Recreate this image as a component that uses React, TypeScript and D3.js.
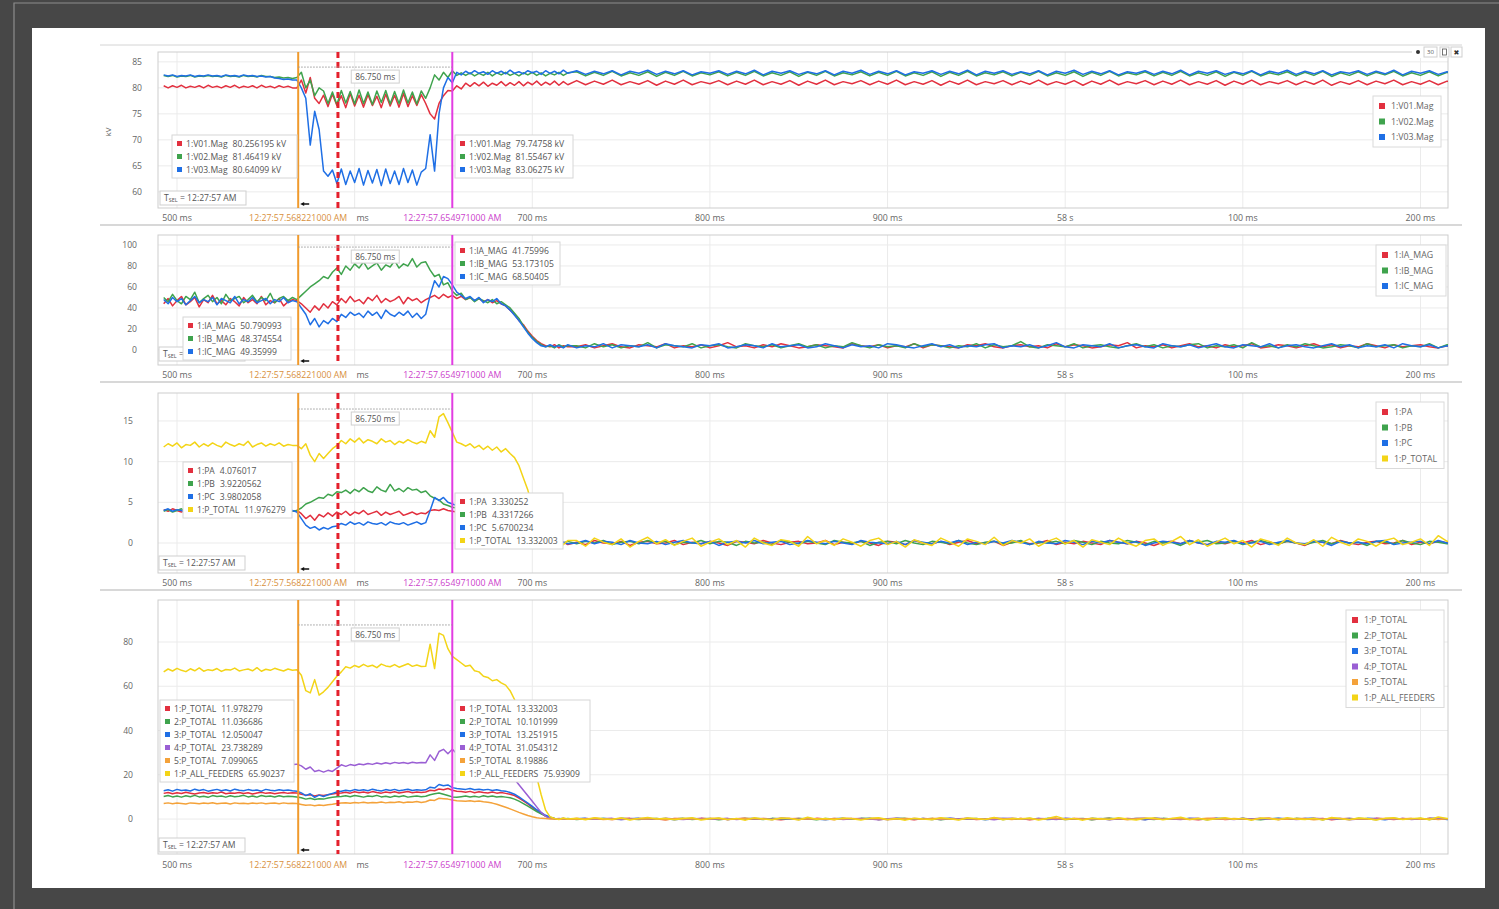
import * as d3 from "d3"

// ---- time axis (ms after 12:27:57) ----
const xTicks = [500, 600, 700, 800, 900, 1000, 1100, 1200]
const xTickLabels = ["500 ms", "600 ms", "700 ms", "800 ms", "900 ms", "58 s", "100 ms", "200 ms"]
const cursorTimes = [568.221, 590.6, 654.971]
const cursorLabels = ["12:27:57.568221000 AM", "", "12:27:57.654971000 AM"]
const spanLabel = "86.750 ms"
const tselTime = "12:27:57 AM"

// samples: head every 2.5 ms from 492.5, tail every 5 ms from 725
const HEAD_T0 = 492.5
const HEAD_DT = 2.5
const TAIL_T0 = 725
const TAIL_DT = 5

// ---- panel 1: voltage magnitudes (kV) ----
const v01Head = [
  80.4, 80.0, 80.4, 80.1, 80.5, 80.0, 80.3, 80.1, 80.4, 80.0, 80.5, 80.1, 80.3, 80.0, 80.4, 80.1, 80.5, 80.0, 80.3, 80.1,
  80.4, 80.0, 80.5, 80.1, 80.3, 80.0, 80.4, 80.1, 80.3, 80.0,
  80.0, 81.5, 79.0, 82.0, 78.0, 77.0,
  78.6, 76.4, 78.8, 76.6, 78.5, 76.2, 78.9, 76.5, 78.6, 76.3, 78.7, 76.6, 78.4, 76.2, 78.8, 76.5, 78.6, 76.3, 78.9, 76.4,
  78.5, 76.6, 78.7,
  77.0, 75.0, 74.0, 77.0, 78.5, 79.5, 79.4, 80.4, 79.8,
  80.9, 80.3, 81.0, 80.4, 81.1, 80.3, 80.9, 80.5, 81.2, 80.4, 81.0, 80.5, 81.2, 80.4, 81.1, 80.6, 81.3, 80.5, 81.1, 80.6,
  81.3, 80.5, 81.2, 80.6,
]
const v01Tail = [
  81.4, 80.6, 81.3, 80.7, 81.5, 80.6, 81.2, 80.7, 81.4, 80.5,
  81.3, 80.7, 81.5, 80.6, 81.2, 80.8, 81.4, 80.6, 81.3, 80.7,
  81.5, 80.6, 81.2, 80.7, 81.4, 80.5, 81.3, 80.7, 81.5, 80.6,
  81.2, 80.8, 81.4, 80.6, 81.3, 80.7, 81.5, 80.6, 81.2, 80.7,
  81.4, 80.5, 81.3, 80.7, 81.5, 80.6, 81.2, 80.8, 81.4, 80.6,
  81.3, 80.7, 81.5, 80.6, 81.2, 80.7, 81.4, 80.5, 81.3, 80.7,
  81.5, 80.6, 81.2, 80.8, 81.4, 80.6, 81.3, 80.7, 81.5, 80.6,
  81.2, 80.7, 81.4, 80.5, 81.3, 80.7, 81.5, 80.6, 81.2, 80.8,
  81.4, 80.6, 81.3, 80.7, 81.5, 80.5, 81.2, 80.7, 81.4, 80.6,
  81.3, 80.8, 81.5, 80.6, 81.2, 80.7, 81.4, 80.6, 81.3, 80.7,
]
const v02Head = [
  82.4, 82.2, 82.4, 82.1, 82.3, 82.2, 82.4, 82.1, 82.3, 82.2, 82.4, 82.2, 82.3, 82.1, 82.4, 82.2, 82.3, 82.1, 82.4, 82.2,
  82.3, 82.1, 82.4, 82.2, 82.2, 82.0, 82.1, 81.9, 82.0, 81.8,
  82.0, 83.0, 80.0, 81.5, 78.5, 80.0,
  79.4, 77.0, 79.2, 76.8, 79.5, 77.1, 79.3, 76.9, 79.6, 77.0, 79.2, 76.8, 79.4, 77.2, 79.5, 76.9, 79.3, 77.0, 79.6, 77.1,
  79.2, 76.9, 79.4,
  78.0, 80.0, 82.5, 81.5, 83.0, 82.0, 83.3, 82.4, 82.9,
  82.4, 82.9, 82.3, 82.8, 82.4, 83.0, 82.3, 82.9, 82.5, 83.0, 82.4, 82.8, 82.3, 82.9, 82.5, 83.0, 82.4, 82.9, 82.3, 82.8,
  82.5, 83.0, 82.4, 82.9,
]
const v02Tail = [
  83.1, 82.3, 83.0, 82.4, 83.2, 82.3, 82.9, 82.4, 83.1, 82.2,
  83.0, 82.4, 83.2, 82.3, 82.9, 82.5, 83.1, 82.3, 83.0, 82.4,
  83.2, 82.3, 82.9, 82.4, 83.1, 82.2, 83.0, 82.4, 83.2, 82.3,
  82.9, 82.5, 83.1, 82.3, 83.0, 82.4, 83.2, 82.3, 82.9, 82.4,
  83.1, 82.2, 83.0, 82.4, 83.2, 82.3, 82.9, 82.5, 83.1, 82.3,
  83.0, 82.4, 83.2, 82.3, 82.9, 82.4, 83.1, 82.2, 83.0, 82.4,
  83.2, 82.3, 82.9, 82.5, 83.1, 82.3, 83.0, 82.4, 83.2, 82.3,
  82.9, 82.4, 83.1, 82.2, 83.0, 82.4, 83.2, 82.3, 82.9, 82.5,
  83.1, 82.3, 83.0, 82.4, 83.2, 82.2, 82.9, 82.4, 83.1, 82.3,
  83.0, 82.5, 83.2, 82.3, 82.9, 82.4, 83.1, 82.3, 83.0, 82.4,
]
const v03Head = [
  82.5, 82.3, 82.5, 82.2, 82.4, 82.3, 82.5, 82.2, 82.4, 82.3, 82.5, 82.3, 82.4, 82.2, 82.5, 82.3, 82.4, 82.2, 82.5, 82.3,
  82.4, 82.2, 82.3, 82.1, 82.2, 81.9, 81.8, 81.6, 81.7, 81.5,
  81.5, 80.0, 78.0, 69.0, 75.5, 72.0, 64.0, 63.0,
  64.2, 61.6, 64.4, 61.4, 64.0, 61.8, 64.5, 61.3, 64.1, 61.7, 64.3, 61.2, 64.4, 61.6, 64.0, 61.4, 64.5, 61.8, 64.2, 61.3,
  63.8,
  64.5, 71.0, 64.0, 75.0, 80.0, 82.0, 81.0, 83.0, 82.5,
  83.2, 82.7, 83.3, 82.8, 83.1, 82.6, 83.3, 82.8, 83.2, 82.7, 83.4, 82.8, 83.1, 82.7, 83.3, 82.9, 83.2, 82.6, 83.3, 82.8,
  83.2, 82.7, 83.4, 82.8,
]
const v03Tail = [
  83.3, 82.6, 83.2, 82.7, 83.3, 82.5, 83.2, 82.8, 83.4, 82.6,
  83.2, 82.7, 83.3, 82.5, 83.1, 82.8, 83.3, 82.6, 83.2, 82.7,
  83.4, 82.5, 83.2, 82.8, 83.3, 82.6, 83.1, 82.7, 83.3, 82.5,
  83.2, 82.8, 83.4, 82.6, 83.2, 82.7, 83.3, 82.5, 83.1, 82.8,
  83.3, 82.6, 83.2, 82.7, 83.4, 82.5, 83.2, 82.8, 83.3, 82.6,
  83.1, 82.7, 83.3, 82.5, 83.2, 82.8, 83.4, 82.6, 83.2, 82.7,
  83.3, 82.5, 83.1, 82.8, 83.3, 82.6, 83.2, 82.7, 83.4, 82.5,
  83.2, 82.8, 83.3, 82.6, 83.1, 82.7, 83.3, 82.5, 83.2, 82.8,
  83.4, 82.6, 83.2, 82.7, 83.3, 82.5, 83.1, 82.8, 83.3, 82.6,
  83.2, 82.7, 83.4, 82.5, 83.2, 82.8, 83.3, 82.6, 83.1, 82.7,
]

// ---- panel 2: current magnitudes ----
const iaHead = [
  44, 49, 42, 47, 51, 43, 46, 50, 41, 48, 45, 52, 44, 47, 43, 49, 46, 42, 50, 45, 48, 44, 51, 43, 47, 45, 49, 42, 46, 48,
  47, 44, 40, 36, 42, 38, 44, 40, 46, 43,
  49, 45, 51, 46, 48, 44, 50, 47, 52, 45, 49, 46, 48, 51, 44, 50, 47, 49, 45,
  48, 50, 52, 49, 53, 50, 52, 49, 51,
  48, 50, 47, 49, 46, 48, 45, 47, 44,
  42, 38, 34, 28, 24, 18, 13, 9, 6, 4, 3, 5, 2, 4, 3,
]
const iaTail = [
  3, 5, 2, 4, 6, 3, 2, 5, 4, 3, 6, 2, 4, 3, 5, 2, 4, 7, 3, 4, 2, 5, 3, 6, 4, 2, 3, 5, 4, 3, 2, 6, 4, 3, 5, 2, 4, 3, 6, 2,
  5, 4, 3, 2, 5, 4, 6, 3, 2, 4, 5, 3, 4, 2, 6, 3, 5, 4, 2, 3, 5, 4, 7, 2, 4, 3, 5, 2, 4, 6, 3, 4, 2, 5, 3, 4, 6, 2, 3, 5,
  4, 2, 4, 6, 3, 5, 2, 4, 3, 6, 4, 2, 5, 3, 4, 5, 3, 2, 4, 3,
]
const ibHead = [
  50, 46, 53, 47, 44, 51, 48, 55, 45, 49, 52, 46, 50, 44, 53, 47, 49, 51, 45, 48, 52, 46, 50, 47, 54, 45, 49, 51, 47, 50,
  48, 52, 56, 60, 63, 66, 70, 68, 74, 78,
  72, 80, 76, 82, 78, 84, 77, 80, 83, 76, 81, 79, 85, 78, 82, 80, 87, 79, 83,
  84, 76, 70, 72, 62, 64, 56, 52, 54,
  48, 50, 46, 49, 47, 45, 48, 44, 46,
  43, 40, 35, 30, 23, 17, 12, 8, 5, 3, 4, 2, 5, 3, 4,
]
const ibTail = [
  4, 2, 6, 3, 5, 2, 4, 3, 7, 2, 5, 4, 3, 6, 2, 4, 5, 3, 2, 6, 4, 3, 5, 2, 4, 6, 3, 5, 2, 4, 3, 7, 4, 2, 5, 3, 4, 2, 6, 3,
  5, 4, 2, 4, 3, 6, 2, 5, 3, 4, 8, 3, 2, 5, 4, 3, 6, 2, 4, 5, 3, 2, 4, 6, 3, 5, 2, 4, 3, 5, 6, 2, 4, 3, 5, 2, 7, 3, 4, 2,
  5, 3, 6, 4, 2, 3, 5, 4, 2, 6, 3, 4, 5, 2, 4, 3, 6, 2, 5, 4,
]
const icHead = [
  48, 44, 50, 46, 49, 43, 47, 51, 45, 48, 46, 50, 43, 49, 47, 45, 51, 44, 48, 46, 50, 45, 47, 49, 44, 48, 46, 50, 45, 47,
  46, 40, 34, 24, 30, 22, 28, 25, 30, 27,
  34, 31, 36, 33, 35, 31, 37, 33, 36, 30, 38, 34, 32, 36, 33, 37, 31, 35, 30,
  34, 52, 66, 60, 70, 68, 62, 55, 52,
  49, 51, 47, 50, 45, 48, 46, 49, 44,
  42, 38, 33, 28, 22, 16, 11, 7, 4, 3, 5, 3, 4, 2, 5,
]
const icTail = [
  2, 4, 3, 6, 2, 5, 4, 3, 5, 2, 6, 4, 3, 2, 5, 4, 6, 2, 3, 5, 4, 2, 6, 3, 4, 5, 2, 3, 6, 4, 2, 5, 3, 4, 2, 6, 5, 3, 2, 4,
  6, 3, 5, 2, 4, 3, 5, 6, 2, 4, 3, 5, 2, 4, 7, 3, 2, 5, 4, 3, 6, 2, 4, 5, 3, 2, 6, 4, 3, 5, 2, 4, 6, 3, 2, 5, 4, 3, 6, 2,
  4, 5, 3, 2, 4, 6, 3, 5, 2, 4, 3, 5, 2, 6, 4, 3, 5, 2, 4, 3,
]

// ---- panel 3: feeder 1 active power ----
const paHead = [
  4.1, 3.9, 4.2, 4.0, 3.8, 4.1, 4.0, 4.2, 3.9, 4.1, 4.0, 3.8, 4.2, 4.0, 4.1, 3.9, 4.2, 4.0, 3.8, 4.1, 4.0, 4.2, 3.9, 4.1,
  4.0, 3.9, 4.2, 4.0, 4.1, 3.9,
  4.0, 3.6, 3.0, 3.4, 2.8, 3.5, 3.2, 3.7, 3.3, 3.8,
  3.5, 3.9, 3.4, 3.8, 3.6, 4.0, 3.5, 3.7, 3.9, 3.4, 3.8, 3.5, 3.7, 3.9, 3.4, 3.6, 3.8, 3.5, 3.7,
  3.6, 4.0, 4.1, 4.0, 4.2, 4.0, 3.9, 3.8, 3.9,
  3.7, 3.8, 3.6, 3.7, 3.5, 3.6, 3.4, 3.5,
  3.3, 3.1, 2.8, 2.4, 2.0, 1.5, 1.1, 0.7, 0.4, 0.2, 0.1, -0.1, 0.2, 0, 0.1, -0.2,
]
const paTail = [
  0.1, -0.2, 0.3, 0, -0.1, 0.2, -0.3, 0.1, 0.2, -0.1, 0, 0.3, -0.2, 0.1, -0.1, 0.2, 0, -0.3, 0.2, 0.1,
  -0.1, 0.3, 0, -0.2, 0.1, 0.2, -0.1, 0, 0.3, -0.2, 0.1, -0.1, 0.2, 0, -0.3, 0.2, 0.1, -0.2, 0.3, 0,
  -0.1, 0.2, -0.2, 0.1, 0.3, -0.1, 0, 0.2, -0.3, 0.1, 0.2, -0.1, 0, 0.3, -0.2, 0.1, -0.1, 0.2, 0, -0.2,
  0.3, 0.1, -0.1, 0.2, 0, -0.3, 0.1, 0.2, -0.1, 0.3, 0, -0.2, 0.1, -0.1, 0.2, 0, 0.3, -0.2, 0.1, -0.1,
  0.2, 0, -0.3, 0.2, 0.1, -0.1, 0.3, 0, -0.2, 0.1, 0.2, -0.1, 0, 0.3, -0.2, 0.1, -0.1, 0.2, 0, 0.1,
]
const pbHead = [
  3.9, 4.1, 3.8, 4.0, 4.2, 3.9, 4.1, 3.8, 4.0, 3.9, 4.1, 4.0, 3.8, 4.2, 3.9, 4.0, 4.1, 3.8, 4.0, 3.9, 4.2, 3.9, 4.0, 4.1,
  3.8, 4.0, 3.9, 4.1, 4.0, 3.9,
  4.0, 4.3, 4.8, 5.0, 5.3, 5.6, 5.5, 6.0, 5.8, 6.3,
  6.2, 6.5, 6.1, 6.6, 6.3, 6.8, 6.4, 6.2, 6.9, 6.5, 6.3, 7.2, 6.4, 6.7, 6.3, 6.8, 6.5, 6.6, 6.2,
  6.4, 5.8, 5.5, 5.3, 4.8, 4.6, 4.4, 4.3, 4.2,
  4.3, 4.1, 4.2, 4.0, 4.1, 3.9, 3.8, 3.7,
  3.5, 3.2, 2.9, 2.5, 2.1, 1.6, 1.2, 0.8, 0.5, 0.3, 0.1, 0.2, -0.1, 0.1, 0, 0.2,
]
const pbTail = [
  -0.1, 0.2, 0, 0.3, -0.2, 0.1, 0.2, -0.1, 0.3, 0, 0.2, -0.2, 0.1, 0, 0.3, -0.1, 0.2, 0.1, -0.3, 0.2,
  0, 0.1, -0.2, 0.3, 0.1, -0.1, 0.2, 0, -0.2, 0.3, 0.1, 0, 0.2, -0.3, 0.1, 0.2, -0.1, 0.3, 0, -0.2,
  0.2, 0.1, -0.1, 0.3, 0, -0.2, 0.1, 0.2, -0.1, 0, 0.3, -0.2, 0.1, 0, 0.2, -0.1, 0.3, 0.1, -0.2, 0.2,
  0, -0.1, 0.3, 0.1, -0.2, 0.2, 0, 0.1, -0.3, 0.2, 0.1, 0.3, -0.1, 0, 0.2, -0.2, 0.1, 0.3, 0, -0.1,
  0.2, 0, -0.2, 0.1, 0.3, -0.1, 0.2, 0, 0.1, -0.3, 0.2, 0.1, -0.1, 0.3, 0, -0.2, 0.2, 0.1, -0.1, 0,
]
const pcHead = [
  4.0, 4.2, 3.9, 4.1, 4.0, 3.8, 4.2, 4.0, 3.9, 4.1, 4.0, 4.2, 3.9, 4.0, 4.1, 3.8, 4.0, 4.2, 3.9, 4.1, 3.9, 4.0, 4.2, 3.8,
  4.1, 4.0, 3.9, 4.1, 4.0, 4.0,
  3.8, 3.0, 2.2, 1.8, 2.0, 1.6, 1.9, 1.7, 2.0, 2.1,
  2.4, 2.2, 2.6, 2.3, 2.5, 2.2, 2.6, 2.4, 2.3, 2.5, 2.2, 2.6, 2.4, 2.3, 2.5, 2.2, 2.4, 2.6, 2.3,
  2.5, 4.0, 5.6, 5.2, 5.6, 5.0, 4.8, 4.6, 4.5,
  4.3, 4.4, 4.2, 4.3, 4.1, 4.0, 3.9, 3.8,
  3.6, 3.3, 3.0, 2.6, 2.2, 1.7, 1.3, 0.9, 0.5, 0.3, 0.1, -0.1, 0.2, 0, 0.1, -0.1,
]
const pcTail = [
  0, 0.3, -0.1, 0.2, 0.1, -0.2, 0.3, 0, -0.1, 0.2, -0.2, 0.1, 0.3, 0, -0.1, 0.2, -0.3, 0.1, 0.2, 0,
  0.3, -0.1, 0.1, 0.2, -0.2, 0, 0.3, 0.1, -0.1, 0.2, 0, -0.2, 0.3, 0.1, 0, -0.1, 0.2, -0.2, 0.3, 0.1,
  -0.1, 0.2, 0, 0.3, -0.2, 0.1, -0.1, 0.2, 0, 0.3, 0.1, -0.2, 0.2, 0, -0.1, 0.3, 0.1, -0.2, 0.2, 0,
  0.3, 0.1, -0.1, 0.2, -0.3, 0, 0.2, 0.1, -0.1, 0.3, 0, -0.2, 0.2, 0.1, 0.3, -0.1, 0, 0.2, -0.2, 0.1,
  0.3, 0, -0.1, 0.2, 0.1, -0.3, 0.2, 0, 0.1, -0.1, 0.2, 0.3, -0.2, 0, 0.1, 0.2, -0.1, 0.3, 0, 0.1,
]
const ptHead = [
  11.8, 12.2, 11.9, 12.3, 11.7, 12.1, 12.0, 12.4, 11.8, 12.2, 11.9, 12.3, 12.0, 11.8, 12.4, 12.1, 11.9, 12.2, 12.0, 12.5,
  11.8, 12.1, 12.3, 11.9, 12.2, 12.0, 12.3, 11.9, 12.1, 12.0,
  12.0, 11.6, 12.2, 10.8, 10.0, 11.0, 10.4, 11.0, 11.6, 12.0,
  12.6, 12.2, 12.8, 12.4, 12.9, 12.3, 12.7, 12.5, 12.2, 12.8, 12.4, 12.6, 12.1, 12.5, 12.3, 12.7, 12.4, 12.2, 12.5,
  12.3, 13.8, 13.0, 15.5, 15.9, 14.8, 13.6, 12.4, 12.2,
  11.9, 12.2, 11.7, 12.0, 11.5, 11.9, 11.4, 11.8, 11.2, 11.6,
  11.0, 10.5, 9.5, 8.0, 6.5, 4.5, 3.0, 1.5, 0.6, 0.3, 0, 0.4, -0.2, 0.3,
]
const ptTail = [
  0.3, -0.4, 0.6, 0.1, -0.2, 0.5, -0.5, 0.2, 0.7, -0.1, 0.4, -0.3, 0.2, 0.6, -0.4, 0.1, 0.5, -0.2, 0.3, -0.5,
  0.6, 0, -0.3, 0.4, 0.2, -0.4, 0.8, -0.1, 0.3, -0.3, 0.5, 0.1, -0.4, 0.3, 0.6, -0.2, 0.2, -0.5, 0.4, 0,
  -0.3, 0.6, 0.1, -0.4, 0.5, 0.2, -0.2, 0.7, -0.3, 0.3, 0, 0.5, -0.4, 0.2, 0.6, -0.1, 0.3, -0.5, 0.4, 0.1,
  -0.2, 0.6, 0, -0.4, 0.3, 0.5, -0.3, 0.2, 0.8, -0.2, 0.4, -0.4, 0.1, 0.6, -0.1, 0.3, -0.5, 0.5, 0.2, -0.3,
  0.6, 0, -0.2, 0.4, -0.4, 0.7, 0.1, -0.3, 0.5, 0.2, -0.4, 0.3, 0.6, -0.2, 0.1, 0.5, -0.3, 0.9, 0.2, 0.4,
]

// ---- panel 4: feeder totals ----
const f1Head = [
  11.6, 12.0, 11.4, 11.9, 11.5, 12.1, 11.7, 11.3, 11.8, 12.0, 11.5, 11.9, 11.6, 12.2, 11.4, 11.8, 11.7, 12.0, 11.5, 11.9,
  11.3, 11.8, 12.1, 11.6, 11.9, 11.4, 11.8, 12.0, 11.6, 11.9,
  11.8, 11.2, 10.8, 11.0, 10.4, 10.9, 10.6, 11.0, 11.3, 11.6,
  11.8, 12.1, 11.7, 12.3, 11.9, 12.2, 11.8, 12.4, 12.0, 11.7, 12.2, 11.9, 12.3, 11.8, 12.1, 12.4, 11.9, 12.2, 12.0,
  12.2, 13.0, 12.8, 13.6, 13.2, 13.8, 13.0, 12.6, 12.4,
  12.1, 12.5, 11.9, 12.3, 12.0, 11.8, 12.2, 11.7, 12.0, 11.6,
  11.2, 10.6, 9.5, 8.2, 6.8, 5.3, 3.9, 2.6, 1.4, 0.6, 0.2, 0, 0.3, -0.1,
]
const f2Head = [
  10.2, 10.6, 10.0, 10.4, 9.9, 10.5, 10.1, 10.7, 10.0, 10.3, 9.8, 10.6, 10.2, 10.4, 9.9, 10.5, 10.1, 10.3, 10.7, 10.0,
  10.4, 9.9, 10.6, 10.2, 10.4, 10.0, 10.5, 10.1, 10.3, 10.2,
  10.0, 9.6, 9.0, 9.4, 8.8, 9.2, 9.0, 9.5, 9.8, 10.1,
  10.2, 10.5, 10.1, 10.6, 10.3, 9.9, 10.4, 10.2, 10.7, 10.0, 10.3, 9.8, 10.4, 10.1, 10.5, 9.9, 10.2, 10.4, 10.1,
  10.3, 11.0, 11.4, 11.8, 11.2, 10.6, 10.0, 9.8, 10.1,
  10.4, 10.0, 10.3, 9.9, 10.5, 10.1, 10.4, 10.0, 10.2, 9.9,
  9.6, 9.0, 8.1, 7.0, 5.8, 4.6, 3.4, 2.3, 1.3, 0.6, 0.2, 0.1, -0.1, 0.2,
]
const f3Head = [
  12.8, 13.2, 12.6, 13.4, 12.9, 13.1, 12.7, 13.5, 12.9, 13.3, 12.6, 13.0, 13.4, 12.8, 13.2, 12.7, 13.5, 13.0, 12.8, 13.3,
  12.9, 13.1, 12.6, 13.4, 13.0, 12.8, 13.2, 12.9, 13.1, 12.8,
  12.6, 11.8, 10.6, 11.4, 9.8, 10.8, 10.2, 11.0, 11.6, 12.2,
  12.6, 13.0, 12.7, 13.3, 12.9, 13.2, 12.8, 13.5, 13.0, 12.7, 13.3, 12.9, 13.4, 12.8, 13.1, 13.5, 12.9, 13.2, 13.0,
  13.2, 14.4, 14.0, 15.6, 15.0, 15.4, 14.2, 13.8, 13.6,
  13.4, 13.8, 13.2, 13.5, 13.1, 13.4, 12.9, 13.2, 12.8, 12.6,
  12.0, 11.2, 10.0, 8.6, 7.2, 5.7, 4.2, 2.9, 1.7, 0.8, 0.3, 0.1, 0.2, -0.1,
]
const f4Head = [
  24.2, 24.8, 24.4, 25.0, 24.3, 24.7, 24.5, 24.9, 24.2, 24.6, 24.8, 24.3, 24.7, 24.5, 25.0, 24.4, 24.6, 24.9, 24.3, 24.7,
  24.5, 24.8, 24.2, 24.6, 24.9, 24.4, 24.7, 24.5, 24.8, 24.6,
  24.8, 24.0, 22.5, 23.5, 21.5, 22.0, 21.2, 22.0, 21.5, 23.0, 24.5,
  23.8, 24.6, 24.2, 24.9, 24.5, 25.1, 24.7, 25.3, 24.9, 25.4, 25.0, 25.6, 25.2, 25.5, 25.1, 25.7, 25.3, 25.6,
  25.4, 29.0, 26.5, 30.5, 31.5, 29.5, 31.5, 29.5, 29.0,
  28.5, 28.0, 27.5, 26.5, 26.0, 25.0, 24.5, 23.5, 22.5, 21.5,
  20.0, 18.0, 15.5, 13.0, 10.5, 8.0, 5.5, 3.0, 1.2, 0.4, 0.0, 0.2, -0.1, 0.1,
]
const f5Head = [
  7.0, 7.3, 6.9, 7.2, 7.0, 6.8, 7.3, 7.1, 6.9, 7.2, 7.0, 7.4, 6.9, 7.1, 7.2, 6.8, 7.3, 7.0, 7.1, 6.9,
  7.2, 7.0, 7.3, 6.9, 7.1, 7.2, 6.9, 7.3, 7.0, 7.1,
  7.0, 6.6, 6.2, 6.4, 6.0, 6.3, 6.1, 6.5, 6.7, 7.0,
  7.2, 7.4, 7.1, 7.5, 7.3, 7.6, 7.2, 7.5, 7.4, 7.7, 7.3, 7.6, 7.5, 7.8, 7.4, 7.7, 7.6, 7.9, 7.5,
  7.8, 8.6, 8.4, 9.4, 9.2, 9.0, 8.6, 8.3, 8.2,
  8.0, 8.3, 7.9, 8.1, 7.8, 7.6, 7.2, 6.7, 6.0, 5.3,
  4.6, 3.8, 3.0, 2.3, 1.6, 1.0, 0.6, 0.3, 0.2, 0, 0.1, -0.1, 0.1, 0,
]
const fAllHead = [
  66.5, 67.8, 66.9, 68.1, 67.2, 66.6, 67.9, 67.0, 68.3, 66.8, 67.5, 67.1, 68.0, 66.7, 67.6, 67.3, 68.2, 66.9, 67.4, 67.8,
  67.0, 68.4, 66.8, 67.7, 67.2, 68.1, 67.5, 66.9, 67.8, 67.2,
  67.5, 65.0, 58.0, 57.0, 63.0, 56.0, 57.5, 59.5, 62.0, 64.5, 66.5,
  68.8, 68.2, 69.4, 68.6, 69.9, 68.9, 69.5, 68.4, 70.0, 69.2, 68.8, 69.8, 68.6, 69.4, 70.2, 69.0, 69.6, 68.9,
  69.0, 79.0, 68.0, 84.0, 83.0, 77.0, 73.5, 72.0, 70.5,
  69.0, 69.5, 67.0, 66.5, 64.5, 64.0, 62.5, 63.0, 61.5, 60.5,
  58.0, 54.0, 48.0, 42.0, 35.0, 27.0, 19.0, 11.0, 4.0, 1.0, 0.3, -0.2, 0.5, 0.0,
]
const f1Tail = [
  0.2, -0.1, 0.3, 0, -0.2, 0.1, 0.3, -0.1, 0.2, 0, -0.3, 0.2, 0.1, -0.1, 0.3, 0, 0.2, -0.2, 0.1, 0.3,
  -0.1, 0.2, 0, -0.3, 0.1, 0.2, -0.1, 0.3, 0, -0.2, 0.2, 0.1, -0.1, 0.3, -0.2, 0, 0.2, 0.1, -0.3, 0.2,
  0, 0.3, -0.1, 0.1, 0.2, -0.2, 0, 0.3, 0.1, -0.1, 0.2, -0.3, 0.1, 0, 0.3, -0.1, 0.2, 0.1, -0.2, 0,
  0.3, -0.1, 0.2, 0, -0.2, 0.3, 0.1, -0.1, 0.2, 0, -0.3, 0.1, 0.3, -0.2, 0, 0.2, -0.1, 0.1, 0.3, -0.2,
  0.1, 0, 0.2, -0.1, 0.3, -0.3, 0.1, 0.2, 0, -0.1, 0.3, 0.1, -0.2, 0.2, 0, -0.1, 0.3, 0, 0.1, -0.2,
]
const f2Tail = [
  -0.2, 0.1, 0, 0.2, -0.1, 0.3, 0, -0.2, 0.1, 0.2, -0.1, 0, 0.3, -0.2, 0.1, 0.2, -0.3, 0.1, 0, 0.2,
  0.1, -0.2, 0.3, 0, -0.1, 0.2, 0.1, -0.3, 0.2, 0, 0.1, -0.1, 0.3, 0.2, -0.2, 0, 0.1, 0.3, -0.1, 0,
  0.2, -0.3, 0.1, 0, 0.2, 0.1, -0.1, 0.3, -0.2, 0.1, 0, 0.2, -0.1, 0.3, 0.1, -0.2, 0, 0.2, -0.3, 0.1,
  0.3, 0, -0.1, 0.2, 0.1, -0.2, 0.3, 0, -0.1, 0.2, 0, -0.2, 0.1, 0.3, -0.1, 0.2, 0, -0.3, 0.1, 0.2,
  -0.1, 0.3, 0, 0.1, -0.2, 0.2, 0.1, -0.1, 0.3, 0, -0.2, 0.1, 0.2, 0, -0.1, 0.3, -0.2, 0.1, 0, 0.2,
]
const f3Tail = [
  0.1, 0.3, -0.1, 0.2, 0, -0.2, 0.1, 0.3, -0.1, 0, 0.2, -0.3, 0.1, 0.2, 0, -0.1, 0.3, -0.2, 0.1, 0,
  0.2, 0.1, -0.2, 0.3, 0, -0.1, 0.2, 0, -0.3, 0.1, 0.3, -0.1, 0, 0.2, 0.1, -0.2, 0.3, 0, -0.1, 0.2,
  -0.2, 0.1, 0.3, 0, -0.1, 0.2, -0.3, 0.1, 0.2, 0, 0.1, -0.1, 0.3, -0.2, 0, 0.2, 0.1, -0.1, 0.3, 0,
  -0.2, 0.2, 0, 0.1, -0.3, 0.3, 0.1, -0.1, 0, 0.2, 0.1, -0.2, 0.3, 0, -0.1, 0.2, -0.2, 0.1, 0, 0.3,
  0, -0.1, 0.2, 0.3, -0.2, 0.1, 0, 0.2, -0.1, 0.3, 0.1, -0.3, 0.2, 0, 0.1, -0.1, 0.2, 0.3, -0.2, 0,
]
const f4Tail = [
  0, 0.2, -0.1, 0.1, 0.3, -0.2, 0, 0.2, 0.1, -0.1, 0.3, 0, -0.2, 0.1, 0.2, -0.1, 0, 0.3, -0.2, 0.1,
  0.2, -0.1, 0, 0.3, 0.1, -0.2, 0.2, 0, -0.1, 0.3, -0.2, 0.1, 0.2, 0, -0.3, 0.1, 0.3, -0.1, 0.2, 0,
  0.1, -0.2, 0.3, 0, 0.2, -0.1, 0.1, -0.3, 0.2, 0.3, 0, -0.1, 0.2, 0.1, -0.2, 0.3, 0, 0.1, -0.1, 0.2,
  -0.3, 0.1, 0, 0.2, 0.3, -0.1, 0.1, 0, -0.2, 0.2, 0.3, -0.1, 0, 0.1, -0.2, 0.2, 0, 0.3, -0.1, 0.1,
  0.2, -0.2, 0, 0.3, 0.1, -0.1, 0.2, -0.3, 0, 0.1, 0.2, 0, -0.1, 0.3, -0.2, 0.1, 0, 0.2, 0.1, -0.1,
]
const f5Tail = [
  -0.1, 0.1, 0.2, -0.2, 0, 0.3, -0.1, 0.1, 0, 0.2, -0.3, 0.1, 0.2, 0, -0.1, 0.3, 0.1, -0.2, 0, 0.2,
  0.1, 0, -0.2, 0.2, 0.3, -0.1, 0, 0.1, -0.2, 0.2, 0, 0.3, -0.1, 0.1, 0.2, -0.3, 0, 0.2, 0.1, -0.1,
  0.3, 0, 0.1, -0.2, 0.2, 0, -0.1, 0.3, 0.1, -0.2, 0.2, 0, -0.1, 0.1, 0.3, -0.2, 0.1, 0, 0.2, -0.1,
  0, 0.2, -0.3, 0.1, 0.3, 0, -0.1, 0.2, 0.1, -0.2, 0, 0.3, 0.1, -0.1, 0.2, 0, -0.2, 0.1, 0.3, 0,
  -0.1, 0.2, 0.1, -0.3, 0, 0.2, 0.3, -0.1, 0.1, 0, -0.2, 0.2, 0.1, 0, 0.3, -0.1, 0.2, -0.2, 0.1, 0,
]
const fAllTail = [
  0.4, -0.3, 0.6, 0.1, -0.2, 0.5, -0.4, 0.3, 0.7, 0, 0.4, -0.3, 0.2, 0.6, -0.4, 0.1, 0.5, -0.2, 0.3, -0.5,
  0.6, 0, -0.3, 0.5, 0.2, -0.4, 0.8, -0.1, 0.3, -0.3, 0.5, 0.1, -0.4, 0.3, 0.6, -0.2, 0.2, -0.5, 0.4, 0,
  -0.3, 0.6, 0.1, -0.4, 0.5, 0.2, -0.2, 0.7, -0.3, 0.3, 0, 0.5, -0.4, 0.2, 1.2, -0.1, 0.3, -0.5, 0.4, 0.1,
  -0.2, 0.6, 0, -0.4, 0.3, 0.5, -0.3, 0.2, 0.8, -0.2, 0.4, -0.4, 0.1, 0.6, -0.1, 0.3, -0.5, 0.5, 0.2, -0.3,
  0.6, 0, -0.2, 0.4, -0.4, 0.7, 0.1, -0.3, 0.5, 0.2, -0.4, 0.3, 0.6, -0.2, 0.1, 0.5, -0.3, 0.9, 0.2, 0.4,
]

// ---- legend texts ----
const vNames = ["1:V01.Mag", "1:V02.Mag", "1:V03.Mag"]
const vLeftValues = ["80.256195 kV", "81.46419 kV", "80.64099 kV"]
const vRightValues = ["79.74758 kV", "81.55467 kV", "83.06275 kV"]
const iNames = ["1:IA_MAG", "1:IB_MAG", "1:IC_MAG"]
const iLeftValues = ["50.790993", "48.374554", "49.35999"]
const iRightValues = ["41.75996", "53.173105", "68.50405"]
const pNames = ["1:PA", "1:PB", "1:PC", "1:P_TOTAL"]
const pLeftValues = ["4.076017", "3.9220562", "3.9802058", "11.976279"]
const pRightValues = ["3.330252", "4.3317266", "5.6700234", "13.332003"]
const fNames = ["1:P_TOTAL", "2:P_TOTAL", "3:P_TOTAL", "4:P_TOTAL", "5:P_TOTAL", "1:P_ALL_FEEDERS"]
const fLeftValues = ["11.978279", "11.036686", "12.050047", "23.738289", "7.099065", "65.90237"]
const fRightValues = ["13.332003", "10.101999", "13.251915", "31.054312", "8.19886", "75.93909"]

const RED = "#e2303f"
const GREEN = "#3fa34d"
const BLUE = "#1f6fe5"
const YELLOW = "#f3d417"
const PURPLE = "#9a5fd4"
const ORANGE = "#f4a23a"
const FONT = "'Open Sans', 'DejaVu Sans', sans-serif"

const PLOT_L = 158
const PLOT_R = 1448
const x = d3.scaleLinear().domain([489.3, 1215.5]).range([PLOT_L, PLOT_R])

type Pt = [number, number]
const toPoints = (head: number[], tail: number[]): Pt[] => [
  ...head.map((v, i) => [HEAD_T0 + HEAD_DT * i, v] as Pt),
  ...tail.map((v, i) => [TAIL_T0 + TAIL_DT * i, v] as Pt),
]

interface Series {
  name: string
  color: string
  head: number[]
  tail: number[]
}
interface Box {
  x: number
  y: number
  w: number
}
interface PanelCfg {
  id: string
  top: number
  bottom: number
  domain: [number, number]
  ticks: number[]
  tickX: number
  xLabelY: number
  maxValue: number
  axisLabel?: string
  series: Series[]
  leftValues: string[]
  rightValues: string[]
  leftBox: Box
  rightBox: Box
  legend: Box
  tsel: { x: number; y: number; short?: boolean }
}

const mk = (names: string[], colors: string[], heads: number[][], tails: number[][]): Series[] =>
  names.map((n, i) => ({ name: n, color: colors[i], head: heads[i], tail: tails[i] }))

const panels: PanelCfg[] = [
  {
    id: "v",
    top: 52,
    bottom: 208,
    domain: [56.9, 86.9],
    ticks: [60, 65, 70, 75, 80, 85],
    tickX: 142,
    xLabelY: 218,
    maxValue: 84.0,
    axisLabel: "kV",
    series: mk(vNames, [RED, GREEN, BLUE], [v01Head, v02Head, v03Head], [v01Tail, v02Tail, v03Tail]),
    leftValues: vLeftValues,
    rightValues: vRightValues,
    leftBox: { x: 172, y: 135, w: 125 },
    rightBox: { x: 455, y: 135, w: 118 },
    legend: { x: 1373, y: 96, w: 68 },
    tsel: { x: 160, y: 191 },
  },
  {
    id: "i",
    top: 235,
    bottom: 365,
    domain: [-14.3, 109.5],
    ticks: [0, 20, 40, 60, 80, 100],
    tickX: 137,
    xLabelY: 375,
    maxValue: 98,
    series: mk(iNames, [RED, GREEN, BLUE], [iaHead, ibHead, icHead], [iaTail, ibTail, icTail]),
    leftValues: iLeftValues,
    rightValues: iRightValues,
    leftBox: { x: 183, y: 317, w: 108 },
    rightBox: { x: 455, y: 242, w: 105 },
    legend: { x: 1376, y: 245, w: 70 },
    tsel: { x: 159, y: 347, short: true },
  },
  {
    id: "p",
    top: 393,
    bottom: 573,
    domain: [-3.69, 18.44],
    ticks: [0, 5, 10, 15],
    tickX: 133,
    xLabelY: 583,
    maxValue: 16.47,
    series: mk(pNames, [RED, GREEN, BLUE, YELLOW], [paHead, pbHead, pcHead, ptHead], [paTail, pbTail, pcTail, ptTail]),
    leftValues: pLeftValues,
    rightValues: pRightValues,
    leftBox: { x: 183, y: 462, w: 109 },
    rightBox: { x: 455, y: 493, w: 108 },
    legend: { x: 1376, y: 402, w: 68 },
    tsel: { x: 159, y: 556 },
  },
  {
    id: "f",
    top: 600,
    bottom: 854,
    domain: [-15.8, 98.98],
    ticks: [0, 20, 40, 60, 80],
    tickX: 133,
    xLabelY: 865,
    maxValue: 87.7,
    series: mk(
      fNames,
      [RED, GREEN, BLUE, PURPLE, ORANGE, YELLOW],
      [f1Head, f2Head, f3Head, f4Head, f5Head, fAllHead],
      [f1Tail, f2Tail, f3Tail, f4Tail, f5Tail, fAllTail],
    ),
    leftValues: fLeftValues,
    rightValues: fRightValues,
    leftBox: { x: 160, y: 700, w: 134 },
    rightBox: { x: 455, y: 700, w: 135 },
    legend: { x: 1346, y: 610, w: 98 },
    tsel: { x: 159, y: 838 },
  },
]

function ValueBox({ box, series, values }: { box: Box; series: Series[]; values: string[] }) {
  const h = 17 + (series.length - 1) * 13
  return (
    <g>
      <rect x={box.x} y={box.y} width={box.w} height={h} fill="#fff" stroke="#d6d6d6" />
      {series.map((s, i) => {
        const cy = box.y + 8.5 + i * 13
        return (
          <g key={s.name}>
            <rect x={box.x + 5} y={cy - 2.5} width={5} height={5} fill={s.color} />
            <text x={box.x + 14} y={cy} dominantBaseline="central" fontSize={8.6} fill="#555">
              {s.name}
              <tspan dx={5}>{values[i]}</tspan>
            </text>
          </g>
        )
      })}
    </g>
  )
}

function Legend({ box, series }: { box: Box; series: Series[] }) {
  const h = 20 + (series.length - 1) * 15.5
  return (
    <g>
      <rect x={box.x} y={box.y} width={box.w} height={h} fill="#fff" stroke="#dadada" />
      {series.map((s, i) => {
        const cy = box.y + 10 + i * 15.5
        return (
          <g key={s.name}>
            <rect x={box.x + 6} y={cy - 3} width={6} height={6} fill={s.color} />
            <text x={box.x + 18} y={cy} dominantBaseline="central" fontSize={8.8} fill="#666">
              {s.name}
            </text>
          </g>
        )
      })}
    </g>
  )
}

// a tick label partly hidden behind a cursor time label shows only its unit
const labeledCursorX = cursorTimes.filter((_, i) => cursorLabels[i]).map((t) => x(t))
const isCovered = (t: number) => labeledCursorX.some((cx) => Math.abs(x(t) - cx) < 62)

function Panel({ p }: { p: PanelCfg }) {
  const y = d3.scaleLinear().domain(p.domain).range([p.bottom, p.top])
  const line = d3
    .line<Pt>()
    .x((d) => x(d[0]))
    .y((d) => y(d[1]))
  const [xa, xd, xb] = cursorTimes.map((t) => x(t))
  const my = y(p.maxValue)
  const clipId = `clip-${p.id}`

  return (
    <g>
      <defs>
        <clipPath id={clipId}>
          <rect x={PLOT_L} y={p.top} width={PLOT_R - PLOT_L} height={p.bottom - p.top} />
        </clipPath>
      </defs>

      {/* grid */}
      {xTicks.map((t) => (
        <line key={t} x1={x(t)} x2={x(t)} y1={p.top} y2={p.bottom} stroke="#ebebeb" />
      ))}
      {p.ticks.map((v) => (
        <line key={v} x1={PLOT_L} x2={PLOT_R} y1={y(v)} y2={y(v)} stroke="#ebebeb" />
      ))}
      <rect x={PLOT_L} y={p.top} width={PLOT_R - PLOT_L} height={p.bottom - p.top} fill="none" stroke="#cdcdcd" />

      {/* y ticks */}
      {p.ticks.map((v) => (
        <text key={v} x={p.tickX} y={y(v)} textAnchor="end" dominantBaseline="central" fontSize={8.6} fill="#666">
          {v}
        </text>
      ))}
      {p.axisLabel && (
        <text
          transform={`translate(111,${(p.top + p.bottom) / 2 + 2}) rotate(-90)`}
          textAnchor="middle"
          fontSize={8}
          fill="#666"
        >
          {p.axisLabel}
        </text>
      )}

      {/* traces */}
      <g clipPath={`url(#${clipId})`}>
        {p.series.map((s) => (
          <path
            key={s.name}
            d={line(toPoints(s.head, s.tail)) ?? ""}
            fill="none"
            stroke={s.color}
            strokeWidth={1.5}
            strokeLinejoin="round"
          />
        ))}
      </g>

      {/* cursors */}
      <line x1={xa} x2={xa} y1={p.top} y2={p.bottom} stroke="#f09a2c" strokeWidth={2} />
      <line x1={xd} x2={xd} y1={p.top} y2={p.bottom} stroke="#e4202c" strokeWidth={3} strokeDasharray="6,4" />
      <line x1={xb} x2={xb} y1={p.top} y2={p.bottom} stroke="#e23ce2" strokeWidth={2} />

      {/* span marker */}
      <line x1={xa} x2={xb} y1={my} y2={my} stroke="#9a9a9a" strokeDasharray="1.5,1.5" />
      <rect x={(xa + xb) / 2 - 24} y={my + 3} width={48} height={13} fill="#fff" stroke="#cfcfcf" />
      <text x={(xa + xb) / 2} y={my + 9.5} textAnchor="middle" dominantBaseline="central" fontSize={8.4} fill="#555">
        {spanLabel}
      </text>

      {/* T_SEL */}
      <rect x={p.tsel.x} y={p.tsel.y} width={86} height={14} fill="#fff" stroke="#cfcfcf" />
      <text x={p.tsel.x + 4} y={p.tsel.y + 7} dominantBaseline="central" fontSize={8.6} fill="#555">
        T
        <tspan fontSize={5.5} dy={2}>
          SEL
        </tspan>
        <tspan dy={-2}>{p.tsel.short ? " =" : ` = ${tselTime}`}</tspan>
      </text>

      <ValueBox box={p.leftBox} series={p.series} values={p.leftValues} />
      <ValueBox box={p.rightBox} series={p.series} values={p.rightValues} />
      <Legend box={p.legend} series={p.series} />

      {/* small arrow at cursor foot */}
      <path d={`M${xa + 2},${p.bottom - 4} l4,-2 v1.3 h5 v1.4 h-5 v1.3 z`} fill="#111" />

      {/* x tick labels */}
      {xTicks.map((t, i) =>
        isCovered(t) ? (
          <text key={t} x={x(t) + 8} y={p.xLabelY} textAnchor="middle" dominantBaseline="central" fontSize={8.8} fill="#666">
            {xTickLabels[i].split(" ").slice(1).join(" ")}
          </text>
        ) : (
          <text key={t} x={x(t)} y={p.xLabelY} textAnchor="middle" dominantBaseline="central" fontSize={8.8} fill="#666">
            {xTickLabels[i]}
          </text>
        ),
      )}
      {cursorTimes.map((t, i) =>
        cursorLabels[i] ? (
          <g key={t}>
            <rect x={x(t) - 52} y={p.xLabelY - 6} width={104} height={12} fill="#fff" />
            <text
              x={x(t)}
              y={p.xLabelY}
              textAnchor="middle"
              dominantBaseline="central"
              fontSize={8.8}
              fill={i === 0 ? "#d88f3c" : "#cc3fcc"}
            >
              {cursorLabels[i]}
            </text>
          </g>
        ) : null,
      )}
    </g>
  )
}

export default function App() {
  return (
    <div style={{ position: "absolute", left: 0, top: 0 }}>
      <svg width={1499} height={909} style={{ display: "block", fontFamily: FONT }}>
        <rect width={1499} height={909} fill="#474747" />
        <path d="M14,909 V3 H1499" fill="none" stroke="#8d8d8d" strokeWidth={1.2} />
        <rect x={32} y={28} width={1453} height={860} fill="#fff" />

        {/* separators */}
        <line x1={100} x2={1462} y1={45} y2={45} stroke="#d4d4d4" />
        {[225, 382, 590].map((yy) => (
          <line key={yy} x1={100} x2={1462} y1={yy} y2={yy} stroke="#d8d8d8" strokeWidth={2} />
        ))}

        {panels.map((p) => (
          <Panel key={p.id} p={p} />
        ))}

        {/* toolbar */}
        <rect x={1412} y={46} width={52} height={12} fill="#fff" />
        <circle cx={1418} cy={52} r={2} fill="#333" />
        <rect x={1424} y={47} width={13} height={10} fill="#fff" stroke="#cfcfcf" />
        <text x={1430.5} y={52} textAnchor="middle" dominantBaseline="central" fontSize={6} fill="#555">
          30
        </text>
        <rect x={1440} y={47} width={9} height={10} fill="#fff" stroke="#cfcfcf" />
        <rect x={1442.5} y={49} width={4} height={6} fill="none" stroke="#555" strokeWidth={0.8} />
        <rect x={1451} y={47} width={11} height={10} fill="#fff" stroke="#cfcfcf" />
        <text x={1456.5} y={52} textAnchor="middle" dominantBaseline="central" fontSize={7} fill="#333">
          ✖
        </text>
      </svg>
    </div>
  )
}
